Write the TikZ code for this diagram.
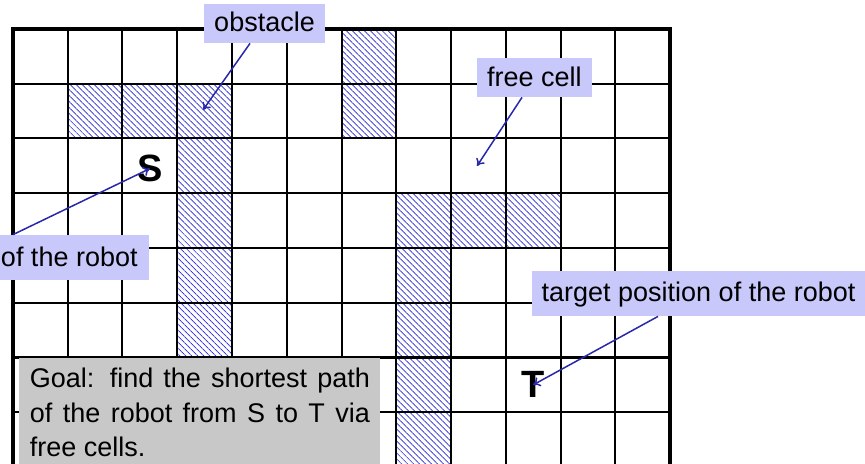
\documentclass[tikz,border=0pt]{standalone}
\usepackage{fontspec}
\setmainfont{Liberation Sans}
\usepackage{xcolor}
\usetikzlibrary{patterns.meta,arrows.meta}

\definecolor{labelblue}{RGB}{200,200,250}
\definecolor{arrowblue}{RGB}{40,40,170}
\definecolor{hatchblue}{RGB}{40,40,210}
\definecolor{goalgray}{RGB}{200,200,200}

\begin{document}
\begin{tikzpicture}[x=27.375pt, y=27.375pt,
    obstaclecell/.style={pattern={Lines[angle=-45, distance=2.12pt, line width=0.35pt]}, pattern color=hatchblue},
    gridline/.style={line width=1pt},
    border/.style={line width=2.2pt, line join=miter},
    marker/.style={font=\fontsize{19}{19}\bfseries\selectfont, inner sep=0pt},
    callout/.style={fill=labelblue, inner xsep=5pt, inner ysep=0pt, text height=10pt, text depth=1.5pt, font=\fontsize{13.5}{16}\selectfont},
    goalbox/.style={fill=goalgray, text width=170pt, inner xsep=5.25pt, inner ysep=5pt, align=justify, font=\fontsize{13.5}{17.3}\selectfont},
    arrow/.style={draw=arrowblue, line width=0.75pt, -{To[length=3.5pt, width=5pt]}}
]
\useasboundingbox (-0.2374,-7.9452) rectangle (15.5616,0.5297);

% Obstacle cells
\fill[obstaclecell] (1,-2) rectangle (4,-1);
\fill[obstaclecell] (3,-8.3) rectangle (4,-2);
\fill[obstaclecell] (6,-2) rectangle (7,0);
\fill[obstaclecell] (7,-8.3) rectangle (8,-3);
\fill[obstaclecell] (8,-4) rectangle (10,-3);

% Grid
\draw[gridline, step=27.375pt] (0,-8.3) grid (12,0);
\draw[border] (0,-8.3) -- (0,0) -- (12,0) -- (12,-8.3);

% Start and target
\node[marker] (S) at (2.5,-2.55) {S};
\node[marker] (T) at (9.5,-6.5) {T};

% Goal
\node[goalbox, anchor=north west] (goal) at (0.11,-6) {Goal: find the shortest path of the robot from S to T via free cells.};

% Callouts
\node[callout, minimum width=60.5pt, minimum height=19.5pt] (obstlbl) at (4.594,0.1005) {obstacle};
\node[callout, minimum width=57.5pt, minimum height=19.5pt] (freelbl) at (9.525,-0.886) {free cell};
\node[callout, minimum height=22.5pt, inner xsep=5.5pt, anchor=east] (startlbl) at (2.484,-4.174) {of the robot};
\node[callout, minimum width=166.5pt, minimum height=22.5pt] (targetlbl) at (12.521,-4.831) {target position of the robot};

\coordinate (obstspot) at (3.47,-1.479);
\coordinate (freespot) at (8.475,-2.502);

% Arrows
\draw[arrow] ([xshift=-7.25pt]obstlbl.south) -- (obstspot);
\draw[arrow] ([xshift=-6.25pt]freelbl.south) -- (freespot);
\draw[arrow] ([xshift=-68pt]startlbl.north east) -- (S.center);
\draw[arrow] ([xshift=-20.25pt]targetlbl.south) -- (T.center);

\end{tikzpicture}
\end{document}
